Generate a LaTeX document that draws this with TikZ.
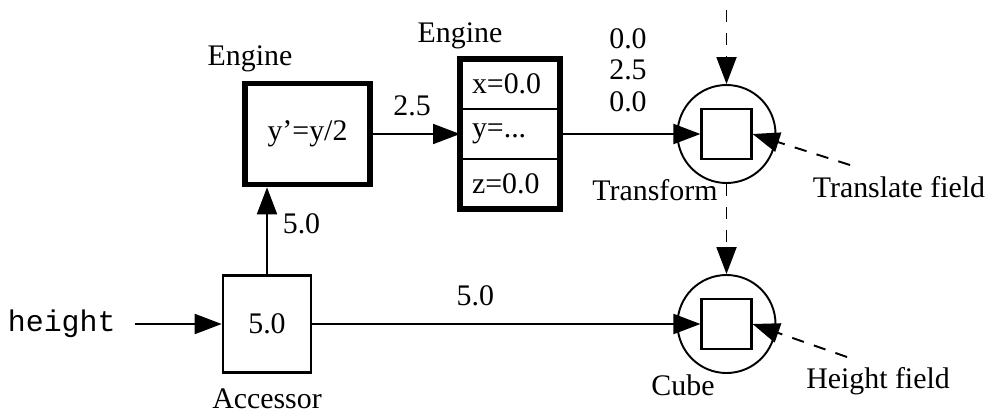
\documentclass[tikz,border=0pt]{standalone}
\usepackage{fontspec}
\setmainfont{Liberation Serif}
\setmonofont{Liberation Mono}
\usetikzlibrary{arrows.meta, positioning}

\begin{document}
\begin{tikzpicture}[
    font=\fontsize{17}{18}\selectfont,
    accbox/.style={draw, line width=1.5pt, minimum width=1.76cm, minimum height=1.94cm},
    engbox/.style={draw, line width=3.2pt, minimum width=2.5cm, minimum height=2.02cm},
    cell/.style={draw, line width=1.1pt, outer sep=0pt, minimum width=2cm, minimum height=1cm, text width=1.52cm, align=left, inner sep=0pt},
    vrmlnode/.style={circle, draw, line width=1.1pt, minimum size=1.96cm},
    field/.style={draw, line width=1.2pt, minimum size=1cm},
    lbl/.style={anchor=base},
    arrow/.style={-{Triangle[length=0.54cm, width=0.4cm]}, line width=1.1pt},
    dasharrow/.style={arrow, dash pattern=on 7pt off 6pt}
]
\useasboundingbox (0,0) rectangle (19.9,8.3);

% engines
\node[engbox] (eng) at (6.15,5.62) {y’=y/2};
\node[lbl] (englbl) at (5.0,7.0) {Engine};
\node[cell] (cx) at (10.2,6.62) {x=0.0};
\node[cell, below=0pt of cx] (cy) {y=...};
\node[cell, below=0pt of cy] (cz) {z=0.0};
\draw[line width=3.2pt] (cx.north west) rectangle (cz.south east);
\node[lbl] (cellslbl) at (9.2,7.46) {Engine};

% accessor
\node[accbox] (acc) at (5.34,1.82) {5.0};
\node[below=0.18cm of acc] (acclbl) {Accessor};
\node[left=2.0cm of acc] (hgt) {\ttfamily height};

% scene nodes
\node[vrmlnode] (xform) at (14.53,5.62) {};
\node[field] (xsq) at (xform) {};
\node[lbl] (xformlbl) at (13.10,4.30) {Transform};
\node[vrmlnode] (cube) at (14.53,1.82) {};
\node[field] (csq) at (cube) {};
\node[lbl] (cubelbl) at (13.66,0.40) {Cube};
\node[align=center] (vals) at (12.56,6.9) {0.0\\2.5\\0.0};
\node[lbl] (tflbl) at (17.98,4.36) {Translate field};
\node[lbl] (hflbl) at (17.56,0.54) {Height field};
\coordinate (top) at (14.53,8.1);
\coordinate (tf) at (17.0,5.0);
\coordinate (hf) at (16.94,1.16);

\draw[arrow, shorten <=0.26cm] (hgt) -- (acc);
\draw[arrow] (acc.north) -- node[right=0.18cm, pos=0.58] (uplbl) {5.0} (acc.north |- eng.south);
\draw[arrow] (eng) -- node[above=0.22cm, pos=0.45] (englink) {2.5} (cy);
\draw[arrow] (cy) -- (xsq);
\draw[arrow] (acc) -- node[above=0.22cm, pos=0.42] (acclink) {5.0} (csq);
\draw[dasharrow] (top) -- (xform);
\draw[dasharrow] (xform) -- (cube);
\draw[dasharrow] (tf) -- (xsq.east);
\draw[dasharrow] (hf) -- (csq.east);
\end{tikzpicture}
\end{document}
